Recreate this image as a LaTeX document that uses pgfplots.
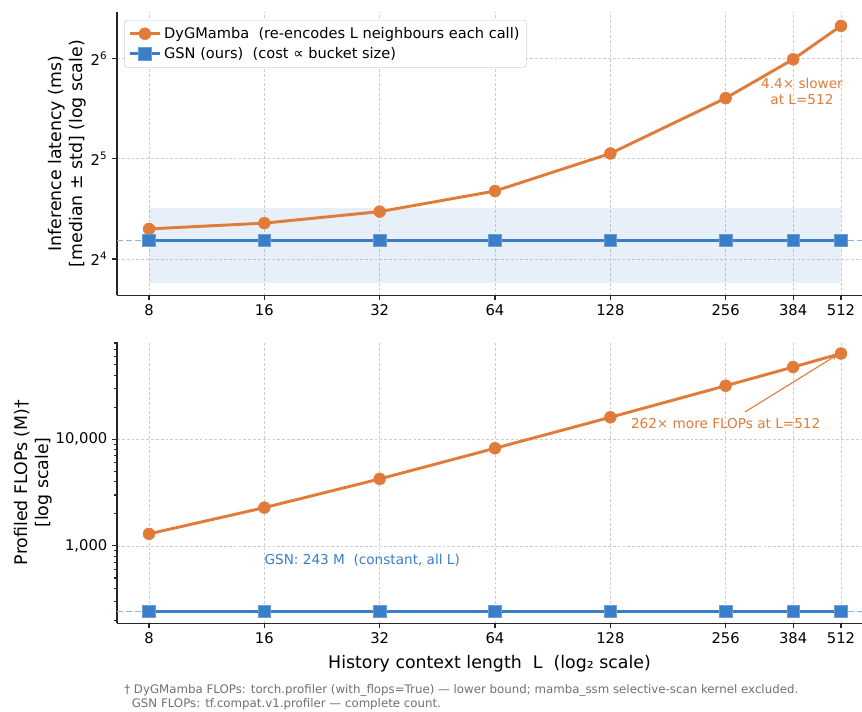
\documentclass[border=0pt]{standalone}
\usepackage{fontspec}
\setmainfont{DejaVu Sans}
\usepackage{pgfplots}
\pgfplotsset{compat=1.18}
\definecolor{cOr}{HTML}{E07B39}
\definecolor{cBl}{HTML}{3A7DC8}
\definecolor{cDash}{HTML}{8DB4E2}
\definecolor{cGrid}{HTML}{CCCCCC}
\definecolor{cFoot}{HTML}{707070}
\definecolor{cAx}{HTML}{262626}

\begin{document}
\begin{tikzpicture}
\useasboundingbox (0,0) rectangle (620.64pt,-512.64pt);

% ---------------- top axis: latency ----------------
\begin{axis}[
  scale only axis,
  width=536.4pt, height=203.98pt,
  at={(84.24pt,-212.62pt)}, anchor=south west,
  xmode=log, log basis x=2,
  xmin=6.60, xmax=581,
  xtick={8,16,32,64,128,256,384,512},
  xticklabels={8,16,32,64,128,256,384,512},
  ymode=log, log basis y=2,
  ymin=12.44, ymax=88.4,
  ytick={16,32,64},
  yticklabels={2\textsuperscript{4},2\textsuperscript{5},2\textsuperscript{6}},
  axis lines=left,
  axis line style={-, line width=0.8pt, cAx},
  tick align=outside,
  major tick length=3.5pt,
  tick style={cAx, line width=0.8pt},
  xmajorgrids, ymajorgrids,
  major grid style={dash pattern=on 2pt off 1.5pt, cGrid, line width=0.5pt},
  tick label style={font=\fontsize{10.6}{12}\selectfont, text=black},
  label style={font=\fontsize{12.5}{15}\selectfont},
  /pgf/number format/assume math mode=true,
  clip=false,
  ylabel={Inference latency (ms)\\{[}median ± std{]} (log scale)},
  ylabel style={align=center, yshift=-3.6pt},
  legend style={at={(0.0094,0.972)}, anchor=north west, draw=black!18, rounded corners=2pt,
    fill=white, font=\fontsize{10.5}{12}\selectfont, row sep=1pt, inner sep=3pt},
  legend cell align=left,
  legend image code/.code={\draw[mark repeat=2,mark phase=2] plot coordinates {(0cm,0cm) (0.38cm,0cm) (0.76cm,0cm)};},
]
\addplot[draw=none, fill=cBl, fill opacity=0.12, forget plot] coordinates {(8,13.58) (512,13.58) (512,22.8) (8,22.8)} -- cycle;
\addplot[cDash, line width=0.8pt, dash pattern=on 4pt off 2.5pt, forget plot] coordinates {(6.60,18.2) (581,18.2)};
\addplot[cOr, line width=2.1pt, mark=*, mark size=4.3pt, mark options={solid, fill=cOr, draw=cOr, line width=0.3pt}] coordinates {(8,19.7) (16,20.5) (32,22.2) (64,25.6) (128,33.2) (256,48.7) (384,63.7) (512,80.3)};
\addlegendentry{DyGMamba\ \ (re-encodes L neighbours each call)}
\addplot[cBl, line width=2.1pt, mark=square*, mark size=4.5pt, mark options={solid, fill=cBl, draw=cBl!75!white, line width=0.5pt}] coordinates {(8,18.2) (16,18.2) (32,18.2) (64,18.2) (128,18.2) (256,18.2) (384,18.2) (512,18.2)};
\addlegendentry{GSN (ours)\ \ (cost ∝ bucket size)}
\node[cOr, align=center, font=\fontsize{9.8}{11.5}\selectfont] at (axis cs:405,50.9) {4.4× slower\\at L=512};
\end{axis}

% ---------------- bottom axis: FLOPs ----------------
\begin{axis}[
  scale only axis,
  width=536.4pt, height=202.75pt,
  at={(84.24pt,-448.78pt)}, anchor=south west,
  xmode=log, log basis x=2,
  xmin=6.60, xmax=581,
  xtick={8,16,32,64,128,256,384,512},
  xticklabels={8,16,32,64,128,256,384,512},
  ymode=log,
  ymin=188, ymax=82200,
  ytick={1000,10000},
  yticklabels={{1,000},{10,000}},
  minor ytick={200,300,400,500,600,700,800,900,2000,3000,4000,5000,6000,7000,8000,9000,20000,30000,40000,50000,60000,70000,80000},
  axis lines=left,
  axis line style={-, line width=0.8pt, cAx},
  tick align=outside,
  major tick length=3.5pt, minor tick length=2pt,
  tick style={cAx, line width=0.8pt},
  xmajorgrids, ymajorgrids,
  major grid style={dash pattern=on 2pt off 1.5pt, cGrid, line width=0.5pt},
  tick label style={font=\fontsize{10.6}{12}\selectfont, text=black},
  label style={font=\fontsize{12.5}{15}\selectfont},
  /pgf/number format/assume math mode=true,
  clip=false,
  ylabel={Profiled FLOPs (M)†\\{[}log scale{]}},
  ylabel style={align=center, yshift=-4pt},
  xlabel={History context length\ \ L\ \ (log₂ scale)},
  xlabel style={yshift=-1pt},
]
\addplot[cDash, line width=0.8pt, dash pattern=on 4pt off 2.5pt, forget plot] coordinates {(6.60,243) (581,243)};
\addplot[cOr, line width=2.1pt, mark=*, mark size=4.3pt, mark options={solid, fill=cOr, draw=cOr, line width=0.3pt}] coordinates {(8,1296) (16,2285) (32,4246) (64,8234) (128,16070) (256,31750) (384,47550) (512,63700)};
\addplot[cBl, line width=2.1pt, mark=square*, mark size=4.5pt, mark options={solid, fill=cBl, draw=cBl!75!white, line width=0.5pt}] coordinates {(8,243) (16,243) (32,243) (64,243) (128,243) (256,243) (384,243) (512,243)};
\draw[cOr, line width=0.8pt, -stealth] (axis cs:287.6,18030) -- (axis cs:499.8,61660);
\node[cOr, font=\fontsize{9.8}{11.5}\selectfont] at (axis cs:256,13990) {262× more FLOPs at L=512};
\node[cBl, anchor=west, inner sep=0pt, font=\fontsize{9.8}{11.5}\selectfont] at (axis cs:16,728) {GSN: 243 M\ \ (constant, all L)};
\end{axis}

\node[anchor=north west, align=left, text=cFoot, inner sep=0pt, font=\fontsize{8.5}{10.2}\selectfont] at (89.3pt,-492.3pt)
  {† DyGMamba FLOPs: torch.profiler (with\_flops=True) — lower bound; mamba\_ssm selective-scan kernel excluded.\\
  \ \ GSN FLOPs: tf.compat.v1.profiler — complete count.};
\end{tikzpicture}
\end{document}
